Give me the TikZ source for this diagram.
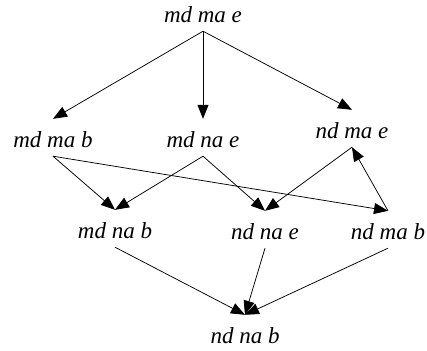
\documentclass[tikz,border=0pt]{standalone}
\usepackage{fontspec}
\setmainfont{Liberation Serif}
\usetikzlibrary{arrows.meta}
\begin{document}
\begin{tikzpicture}[x=1bp,y=-1bp,
  lbl/.style={shape=rectangle,inner sep=0pt,anchor=base,text height=28bp,text depth=9bp,
    font=\fontsize{23bp}{27bp}\selectfont\itshape},
  edge/.style={draw=black,line width=0.75bp,-{Triangle[length=14bp,width=11bp]}}]
\useasboundingbox (0,0) rectangle (427,351);
\node[lbl] (mdmae) at (203,22) {md ma e};
\node[lbl] (mdmab) at (53,147) {md ma b};
\node[lbl] (mdnae) at (203,147) {md na e};
\node[lbl] (ndmae) at (352,138) {nd ma e};
\node[lbl] (mdnab) at (115,238) {md na b};
\node[lbl] (ndnae) at (265,239) {nd na e};
\node[lbl] (ndmab) at (388,239) {nd ma b};
\node[lbl] (ndnab) at (245,343) {nd na b};
\draw[edge] (mdmae.south) -- (mdmab.north);
\draw[edge] (mdmae.south) -- (mdnae.north);
\draw[edge] (mdmae.south) -- (ndmae.north);
\draw[edge] (mdmab.south) -- (mdnab.north);
\draw[edge] (mdmab.south) -- (ndmab.north);
\draw[edge] (mdnae.south) -- (mdnab.north);
\draw[edge] (mdnae.south) -- (ndnae.north);
\draw[edge] (ndmae.south) -- (ndnae.north);
\draw[edge] (ndmab.north) -- (ndmae.south);
\draw[edge] (mdnab.south) -- (ndnab.north);
\draw[edge] (ndnae.south) -- (ndnab.north);
\draw[edge] (ndmab.south) -- (ndnab.north);
\end{tikzpicture}
\end{document}
